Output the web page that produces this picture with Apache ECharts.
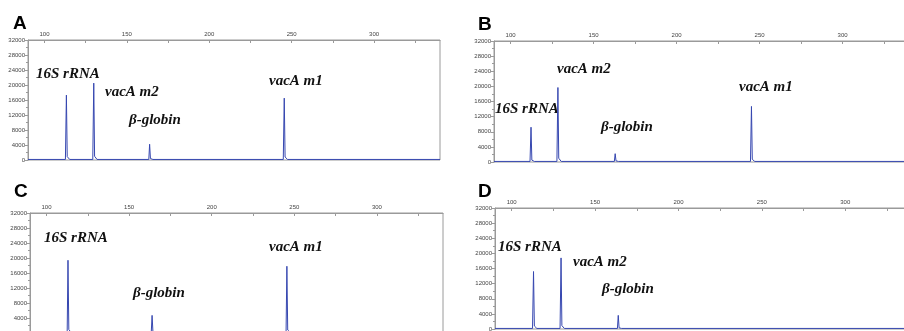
<!DOCTYPE html>
<html>
<head>
<meta charset="utf-8">
<script src="https://cdn.jsdelivr.net/npm/echarts@6/dist/echarts.min.js"></script>
<style>
  html, body { margin: 0; padding: 0; background: #fff; }
  #chart { width: 904px; height: 331px; }
</style>
</head>
<body>
<div id="chart"></div>
<script>
// fragment size (bp) vs fluorescence (RFU) traces
const traceA = [
  [90, 150], [112.7, 150], [113.3, 17300], [113.8, 900], [115.3, 150],
  [129.3, 150], [129.9, 20500], [130.4, 1000], [131.9, 150],
  [163.3, 150], [163.8, 4200], [164.3, 400], [165.8, 150],
  [244.9, 150], [245.5, 16500], [246, 800], [247.5, 150],
  [340, 150]
];
const traceB = [
  [90, 150], [111.7, 150], [112.3, 9200], [112.8, 500], [114.3, 150],
  [127.9, 150], [128.5, 19700], [129, 1000], [130.5, 150],
  [162.5, 150], [163, 2200], [163.5, 300], [165, 150],
  [244.5, 150], [245.1, 14700], [245.6, 700], [247.1, 150],
  [340, 150]
];
const traceC = [
  [90, 150], [112.5, 150], [113, 19400], [113.5, 900], [115, 150],
  [163.4, 150], [163.9, 4700], [164.4, 400], [165.9, 150],
  [245, 150], [245.5, 17800], [246, 800], [247.5, 150],
  [340, 150]
];
const traceD = [
  [90, 150], [112.5, 150], [113.1, 15200], [113.6, 800], [115.1, 150],
  [129, 150], [129.6, 18800], [130.1, 900], [131.6, 150],
  [163.4, 150], [163.9, 3600], [164.4, 300], [165.9, 150],
  [340, 150]
];

const sizeLabels = [100, 150, 200, 250, 300];
const sizeTicks = [100, 125, 150, 175, 200, 225, 250, 275, 300, 325];
const panelNames = ['A', 'B', 'C', 'D'];

const AXIS_GRAY = '#9a9a9a';
const TRACE_BLUE = '#3647b0';
const LABEL_FONT = 'italic bold 15px "Liberation Serif", "Times New Roman", serif';

// plot boxes in px
const grids = [
  { left: 28, top: 40, width: 412, height: 120 },
  { left: 494, top: 41, width: 415, height: 121 },
  { left: 30, top: 213, width: 413, height: 120 },
  { left: 495, top: 208, width: 417, height: 121 }
];
const traces = [traceA, traceB, traceC, traceD];

const chart = echarts.init(document.getElementById('chart'), null, { renderer: 'canvas' });

const xAxes = grids.map((g, i) => ({
  type: 'value',
  gridIndex: i,
  position: 'top',
  min: 90,
  max: 340,
  axisLine: { show: true, onZero: false, lineStyle: { color: AXIS_GRAY, width: 1 } },
  axisTick: { show: true, inside: true, length: 3, customValues: sizeTicks, lineStyle: { color: AXIS_GRAY } },
  axisLabel: { customValues: sizeLabels, fontSize: 6, color: '#444', margin: 3, fontFamily: 'Liberation Sans' },
  splitLine: { show: false }
}));

const yAxes = grids.map((g, i) => ({
  type: 'value',
  gridIndex: i,
  min: 0,
  max: 32000,
  interval: 4000,
  axisLine: { show: true, onZero: false, lineStyle: { color: AXIS_GRAY, width: 1 } },
  axisTick: { show: true, length: 3, lineStyle: { color: AXIS_GRAY } },
  minorTick: { show: true, splitNumber: 2, length: 2, lineStyle: { color: AXIS_GRAY } },
  axisLabel: {
    fontSize: 6, color: '#444', margin: 3, fontFamily: 'Liberation Sans',
    formatter: v => String(v)
  },
  splitLine: { show: false },
  minorSplitLine: { show: false }
}));

const series = traces.map((t, i) => ({
  type: 'line',
  xAxisIndex: i,
  yAxisIndex: i,
  data: t,
  showSymbol: false,
  symbol: 'none',
  animation: false,
  lineStyle: { color: TRACE_BLUE, width: 1 }
}));

const letterPos = [[13, 14], [478, 15], [14, 182], [478, 182]];
const letters = panelNames.map((name, i) => ({
  type: 'text',
  left: letterPos[i][0],
  top: letterPos[i][1],
  style: { text: name, font: 'bold 19px "Liberation Sans", Arial, sans-serif', fill: '#000' }
}));

// gene labels: [text, x, y-middle]
const geneLabels = [
  ['16S rRNA', 36, 74], ['vacA m2', 105, 92], ['β-globin', 129, 120], ['vacA m1', 269, 81],
  ['16S rRNA', 495, 109], ['vacA m2', 557, 69], ['β-globin', 601, 127], ['vacA m1', 739, 87],
  ['16S rRNA', 44, 238], ['β-globin', 133, 293], ['vacA m1', 269, 247],
  ['16S rRNA', 498, 247], ['vacA m2', 573, 262], ['β-globin', 602, 289]
];
const labelEls = geneLabels.map(([text, x, y]) => ({
  type: 'text',
  x: x,
  y: y,
  style: { text: text, font: LABEL_FONT, fill: '#111', verticalAlign: 'middle' }
}));

chart.setOption({
  animation: false,
  backgroundColor: '#fff',
  grid: grids.map(g => ({
    left: g.left,
    top: g.top,
    width: g.width,
    height: g.height,
    show: true,
    borderColor: AXIS_GRAY,
    borderWidth: 1,
    backgroundColor: 'transparent',
    outerBoundsMode: 'none',
    containLabel: false
  })),
  xAxis: xAxes,
  yAxis: yAxes,
  series: series,
  graphic: letters.concat(labelEls)
});
</script>
</body>
</html>
